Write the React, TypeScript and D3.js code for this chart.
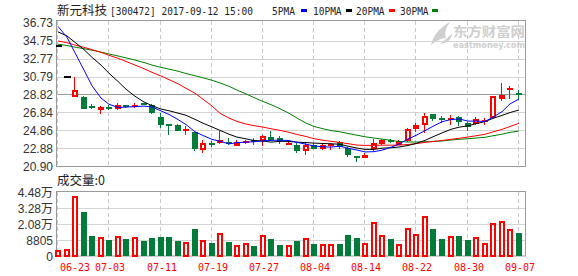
import React from 'react';
import * as d3 from 'd3';

// ---------- data ----------
const open = [34.11,30.74,28.58,28.58,27.42,27.11,27.32,27.22,27.66,27.50,27.80,27.62,26.34,25.53,25.46,24.92,24.71,22.70,23.40,23.48,23.54,23.12,23.58,23.81,23.67,24.14,24.03,23.35,23.23,22.64,23.23,22.82,23.25,23.56,22.93,21.99,21.80,22.86,23.37,23.76,23.30,23.74,25.06,25.50,26.71,26.18,26.12,26.38,25.64,25.61,25.86,26.23,28.36,29.40,28.90];
const high = [34.11,30.74,30.70,28.65,27.77,27.55,27.62,27.88,27.70,27.84,27.84,27.77,26.82,25.57,25.52,25.40,24.73,23.80,23.70,24.77,24.03,23.85,23.85,24.03,24.33,24.77,24.22,23.59,23.48,23.59,23.48,23.37,23.48,23.67,23.08,21.99,22.42,23.96,23.96,23.96,23.85,25.13,25.68,26.78,26.71,26.42,26.60,26.45,25.75,26.31,26.23,28.61,30.08,29.71,29.30];
const low = [34.11,30.74,28.50,27.18,27.18,26.71,27.15,27.15,27.33,27.33,27.66,26.67,25.13,24.31,24.75,24.31,22.55,22.33,23.04,23.41,23.30,23.12,23.37,23.30,23.19,23.70,23.37,23.23,22.38,22.13,22.80,22.75,22.75,22.86,21.91,21.40,21.80,22.57,23.30,23.48,23.30,23.59,24.69,24.58,25.94,25.68,25.50,25.39,24.77,25.43,25.43,26.20,28.14,28.32,28.36];
const close = [34.11,30.74,29.35,27.26,27.40,27.40,27.30,27.66,27.40,27.62,27.73,26.78,25.50,25.47,24.80,24.99,22.84,23.43,23.36,23.78,23.50,23.59,23.63,23.59,24.25,23.78,23.74,23.41,22.57,23.23,22.86,23.23,23.30,23.01,22.13,21.86,22.20,23.45,23.81,23.72,23.67,24.99,25.42,26.42,26.12,26.14,26.20,25.75,25.24,26.12,25.92,28.61,28.72,29.52,28.85];
const volume = [4200,4900,42000,31000,14200,13300,11200,14000,11900,13300,10700,12600,13300,13300,10700,9800,18900,11000,9100,16100,9800,7500,9100,7000,14500,11900,7700,7500,10500,12400,8400,8400,8400,8400,14700,12600,9100,23600,14500,11900,8200,19400,15400,27800,18900,11900,13800,14000,11200,13100,9100,23100,24500,18900,16300];
const ma5 = [36.30,35.10,33.40,31.50,29.77,28.43,27.74,27.40,27.43,27.48,27.54,27.44,27.01,26.62,26.06,25.51,24.72,24.31,23.88,23.68,23.38,23.53,23.57,23.62,23.71,23.77,23.80,23.75,23.55,23.35,23.16,23.06,23.04,23.13,22.91,22.71,22.50,22.53,22.69,23.01,23.37,23.93,24.32,24.84,25.32,25.82,26.06,26.13,25.89,25.89,25.85,26.33,26.92,27.78,28.32];
const ma10 = [35.70,35.25,34.55,33.75,32.90,32.05,31.15,30.25,29.40,28.62,27.99,27.59,27.21,27.03,26.77,26.53,26.08,25.66,25.25,24.87,24.45,24.13,23.94,23.75,23.70,23.58,23.67,23.66,23.58,23.53,23.47,23.43,23.40,23.34,23.13,22.93,22.78,22.78,22.91,22.96,23.04,23.21,23.43,23.77,24.17,24.59,24.99,25.22,25.37,25.61,25.83,26.19,26.52,26.83,27.11];
const ma20 = [34.70,34.50,34.25,34.00,33.75,33.45,33.12,32.80,32.45,32.05,31.65,31.25,30.85,30.45,30.00,29.50,28.95,28.30,27.55,26.75,26.22,25.86,25.57,25.39,25.23,25.05,24.87,24.66,24.42,24.20,23.96,23.78,23.67,23.54,23.41,23.25,23.22,23.22,23.25,23.24,23.25,23.32,23.41,23.55,23.65,23.76,23.89,24.00,24.14,24.28,24.44,24.70,24.98,25.30,25.64];
const ma30 = [34.35,34.20,34.02,33.85,33.68,33.48,33.27,33.05,32.84,32.60,32.33,32.05,31.80,31.60,31.38,31.12,30.88,30.65,30.38,30.08,29.72,29.30,28.88,28.47,28.05,27.70,27.25,26.75,26.22,25.67,25.30,25.05,24.85,24.71,24.53,24.34,24.17,24.03,23.91,23.78,23.65,23.59,23.59,23.62,23.66,23.70,23.81,23.89,23.95,24.03,24.11,24.28,24.45,24.65,24.80];

const priceTicks = [36.73, 34.75, 32.77, 30.79, 28.82, 26.84, 24.86, 22.88, 20.90];
const midTick = 28.82;
const volTickLabels = ['4.48万', '3.28万', '2.08万', '8805', '0'];
const dateLabels = ['06-23', '07-03', '07-11', '07-19', '07-27', '08-04', '08-14', '08-22', '08-30', '09-07'];
const dateIndex = [0, 6, 12, 18, 24, 30, 36, 42, 48, 54];

const maSeries = [
  { name: '5PMA', values: ma5, color: '#0000ff' },
  { name: '10PMA', values: ma10, color: '#000000' },
  { name: '20PMA', values: ma20, color: '#ff0000' },
  { name: '30PMA', values: ma30, color: '#008000' },
];

const RED = '#ff0000';
const GREEN = '#007b3a';
const FRAME = '#9a9a9a';
const GRID = '#d4d4d4';
const LABEL_FONT = '"Liberation Sans", Arial, sans-serif';
const MONO = '"DejaVu Sans Mono", monospace';
const CJK = '"Noto Sans CJK SC", sans-serif';

export default function App() {
  const W = 578, H = 276;
  const left = 56, right = 525;
  const pTop = 21, pBottom = 166.5;
  const vTop = 192, vBottom = 256;

  const idx = d3.range(close.length);
  const x = d3.scaleBand<number>().domain(idx).range([54, 523]);
  const cx = (i: number) => Math.round((x(i) as number) + x.bandwidth() / 2);
  const y = d3.scaleLinear().domain([20.90, 36.73]).range([166.5, 22.5]);
  const yv = d3.scaleLinear().domain([0, 44800]).range([vBottom, vTop]);
  const yvGrid = d3.scaleLinear().domain([0, volTickLabels.length - 1]).range([vTop, vBottom]);

  const line = d3.line<number>().x((_, i) => cx(i)).y((d) => y(d));

  const candles = idx.map((i) => {
    const c = cx(i);
    const L = c - 3;
    const o = open[i], cl = close[i];
    const yo = y(o), yc = y(cl), yh = y(high[i]), yl = y(low[i]);
    if (o === cl) {
      return <rect key={i} x={L} y={Math.round(yo) - 1} width={7} height={2} fill="#000" />;
    }
    const color = cl > o ? RED : GREEN;
    const top = Math.round(Math.min(yo, yc));
    const bot = Math.round(Math.max(yo, yc));
    const bh = bot - top;
    const wick = (
      <rect x={c - 1} y={Math.round(yh)} width={1} height={Math.max(1, Math.round(yl) - Math.round(yh))} fill={color} />
    );
    if (bh < 2) {
      const m = Math.round((yo + yc) / 2);
      return (
        <g key={i}>
          {wick}
          <rect x={L} y={m - 1} width={6} height={2} fill={color} />
        </g>
      );
    }
    if (cl > o) {
      return (
        <g key={i}>
          {wick}
          <rect x={L + 1} y={top + 1} width={4} height={bh - 2} fill="#fff" stroke={color} strokeWidth={2} />
        </g>
      );
    }
    return (
      <g key={i}>
        {wick}
        <rect x={L} y={top} width={6} height={bh} fill={color} />
      </g>
    );
  });

  const volBars = idx.map((i) => {
    const c = cx(i);
    const L = c - 3;
    const t = Math.round(yv(volume[i]));
    const h = vBottom - t;
    if (close[i] >= open[i]) {
      return <rect key={i} x={L + 1} y={t + 1} width={4} height={h - 1} fill="#fff" stroke={RED} strokeWidth={2} />;
    }
    return <rect key={i} x={L} y={t} width={6} height={h} fill={GREEN} />;
  });

  // header layout (monospace text compressed horizontally like the bitmap font)
  const sx = 0.864;
  const legendX = [272, 313, 356, 400];
  const legendW = [26, 30, 30, 29];

  return (
    <svg width={W} height={H} viewBox={`0 0 ${W} ${H}`} style={{ position: 'absolute', left: 0, top: 0, background: '#fff' }}>
      <rect x={0} y={0} width={W} height={H} fill="#fff" />
      <defs>
        <clipPath id="pclip">
          <rect x={left} y={pTop} width={right - left} height={pBottom - pTop} />
        </clipPath>
      </defs>

      {/* watermark */}
      <g fill="#cfcfcf">
        <path d="M431,45 C433,36 440,27 450,22 C446,28 444,33 446,38 C441,38 436,41 431,45 Z" />
        <path d="M440,44 C444,40 449,38 452,33 C452,39 448,43 440,44 Z" />
        <text x={453} y={36} fontFamily={CJK} fontWeight="bold" fontSize={13} textLength={72} lengthAdjust="spacingAndGlyphs">东方财富网</text>
        <text x={453} y={47.5} fontFamily='"DejaVu Sans", sans-serif' fontWeight="bold" fontSize={8} textLength={72} lengthAdjust="spacingAndGlyphs">eastmoney.com</text>
      </g>

      {/* price grid */}
      {priceTicks.slice(1, -1).map((t) => (
        <line key={t} x1={left} x2={right} y1={Math.round(y(t)) + 0.5} y2={Math.round(y(t)) + 0.5}
          stroke={t === midTick ? FRAME : GRID} strokeWidth={1} />
      ))}
      {/* volume grid */}
      {volTickLabels.slice(1, -1).map((_, k) => (
        <line key={k} x1={left} x2={right} y1={Math.round(yvGrid(k + 1)) + 0.5} y2={Math.round(yvGrid(k + 1)) + 0.5} stroke={GRID} />
      ))}
      {/* vertical dashed lines */}
      {dateIndex.map((i) => (
        <g key={i} stroke="#c8c8c8" strokeDasharray="4,3">
          <line x1={cx(i) - 0.5} x2={cx(i) - 0.5} y1={pTop} y2={pBottom} />
          <line x1={cx(i) - 0.5} x2={cx(i) - 0.5} y1={vTop} y2={vBottom} />
        </g>
      ))}

      {/* frames */}
      <rect x={left + 0.5} y={pTop - 0.5} width={right - left} height={pBottom - pTop + 0.5} fill="none" stroke={FRAME} />
      <rect x={left + 0.5} y={vTop - 0.5} width={right - left} height={vBottom - vTop + 0.5} fill="none" stroke={FRAME} />

      {/* candles */}
      <g shapeRendering="crispEdges" clipPath="url(#pclip)">{candles}</g>

      {/* moving averages */}
      <g clipPath="url(#pclip)" fill="none" strokeWidth={1}>
        {maSeries.slice().reverse().map((s) => (
          <path key={s.name} d={line(s.values) || ''} stroke={s.color} />
        ))}
      </g>

      {/* volume bars */}
      <g shapeRendering="crispEdges">{volBars}</g>

      {/* price labels */}
      {priceTicks.map((t) => (
        <text key={t} x={53} y={y(t) + 4.5} textAnchor="end" fontFamily={LABEL_FONT} fontSize={12} fill="#333">
          {t.toFixed(2)}
        </text>
      ))}
      {/* volume labels */}
      {volTickLabels.map((l, k) => (
        <text key={l} x={53} y={yvGrid(k) + 4.5} textAnchor="end" fontFamily={`${LABEL_FONT}, ${CJK}`} fontSize={12} fill="#333">
          {l}
        </text>
      ))}
      {/* date labels */}
      {dateIndex.map((i, k) => (
        <text key={i} x={k === 0 ? cx(i) + 2 : cx(i) + 1} y={270.5} textAnchor={k === 0 ? 'start' : 'middle'}
          fontFamily={MONO} fontSize={10} fill={RED}>
          {dateLabels[k]}
        </text>
      ))}

      {/* header */}
      <text x={57} y={15} fontFamily={CJK} fontSize={12.5} fill="#222">新元科技</text>
      <g transform={`translate(110,15) scale(${sx},1)`}>
        <text x={0} y={0} fontFamily={MONO} fontSize={11} fill="#222">[300472] 2017-09-12 15:00</text>
      </g>
      {maSeries.map((s, k) => (
        <g key={s.name}>
          <g transform={`translate(${legendX[k]},15) scale(${sx},1)`}>
            <text x={0} y={0} fontFamily={MONO} fontSize={11} fill="#222">{s.name}</text>
          </g>
          <rect x={legendX[k] + legendW[k] + 3} y={9} width={6} height={3} fill={s.color} />
        </g>
      ))}

      {/* volume title */}
      <text x={57} y={185} fontFamily={CJK} fontSize={12.5} fill="#222">成交量:0</text>
    </svg>
  );
}
